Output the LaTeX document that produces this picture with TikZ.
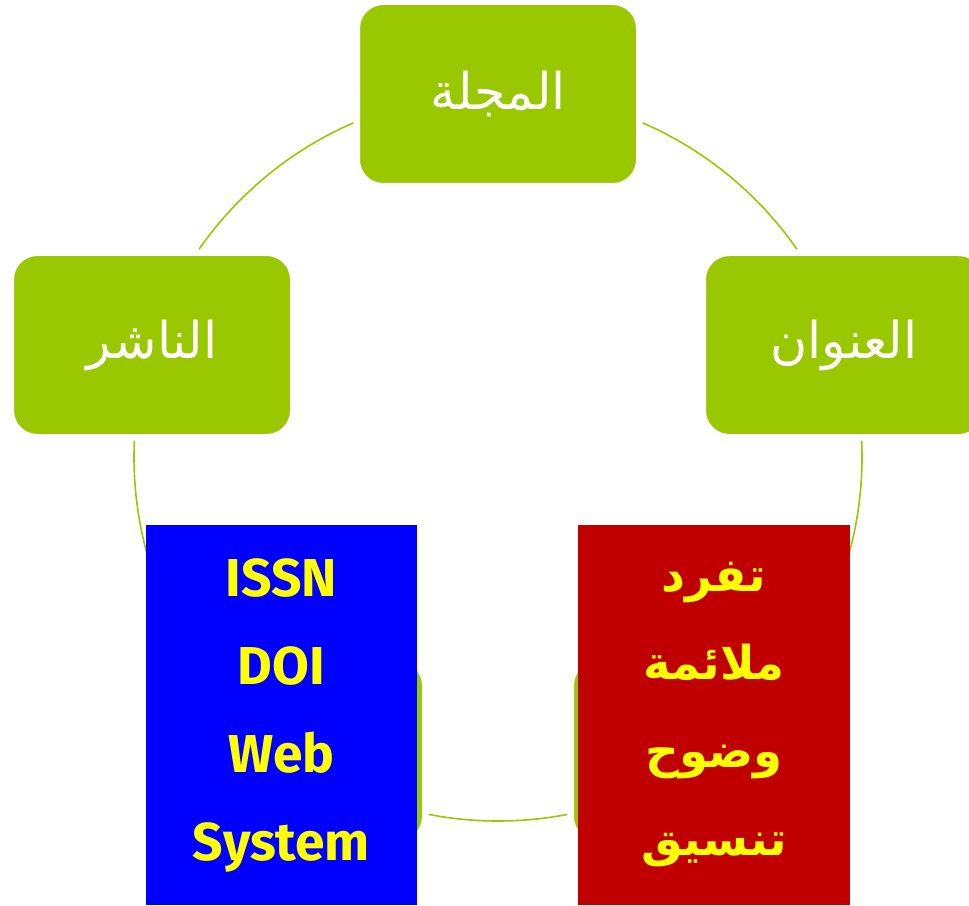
\documentclass[tikz,border=0pt]{standalone}
\usepackage{fontspec}
\newfontfamily\arabicfont[Script=Arabic]{DejaVu Sans}
\newfontfamily\latinfont{Fira Sans}
\TeXXeTstate=1
\definecolor{boxgreen}{RGB}{153,200,0}
\definecolor{listred}{RGB}{192,0,0}
\definecolor{listyellow}{RGB}{255,255,0}

\begin{document}
\begin{tikzpicture}[x=0.75pt,y=0.75pt,yscale=-1,xscale=1,
  greenbox/.style={draw=white,line width=5pt,fill=boxgreen,rounded corners=20pt,
    minimum width=212pt,minimum height=138.5pt,inner sep=0pt,text=white,
    font=\arabicfont\fontsize{38}{44}\selectfont},
  listbox/.style={fill=#1,minimum width=203.5pt,minimum height=285pt,inner sep=0pt,
    text=listyellow,align=center}]
%set diagram size 969 x 905
\clip (0,0) rectangle (969,905);
\useasboundingbox (0,0) rectangle (969,905);

%Shape: Circle
\coordinate (hub) at (498,457);
\draw [color=boxgreen,line width=1.2pt] (hub) circle [radius=364];

%Shape: Rounded Rectangles
\node [greenbox] (journal) at (498,94) {\beginR المجلة\endR};
\node [greenbox] (title) at (844,345) {\beginR العنوان\endR};
\node [greenbox] (publisher) at (152,345) {\beginR الناشر\endR};
\node [greenbox] (lowleft) at (284,751) {};
\node [greenbox] (lowright) at (712,751) {};

%Shape: Rectangle
\node [listbox=blue,font=\latinfont\bfseries\fontsize{40}{66}\selectfont] (ids) at (281.5,715)
  {ISSN\\DOI\\Web\\System};
%Shape: Rectangle
\node [listbox=listred,font=\arabicfont\bfseries\fontsize{35}{66}\selectfont] (qualities) at (714,715)
  {\beginR تفرد\endR\\\beginR ملائمة\endR\\\beginR وضوح\endR\\\beginR تنسيق\endR};

\end{tikzpicture}
\end{document}
